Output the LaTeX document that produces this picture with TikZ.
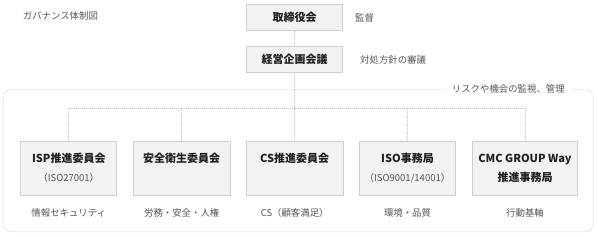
\documentclass[tikz,border=0pt]{standalone}
\usepackage{fontspec}
\setmainfont{Noto Sans CJK JP}
\definecolor{boxfill}{HTML}{F2F2F2}
\definecolor{boxline}{HTML}{CFCFCF}
\definecolor{dotline}{HTML}{C4C4C4}
\definecolor{titletext}{HTML}{1F1F1F}
\definecolor{notetext}{HTML}{555555}
\newcommand{\subline}[1]{{\mdseries\color{notetext}\fontsize{9.5}{19}\selectfont #1}}
\tikzset{
  unit/.style={draw=boxline, fill=boxfill, line width=0.8pt, minimum height=54, inner sep=0,
    align=center, text=titletext, font=\fontsize{11}{19}\selectfont\bfseries},
  link/.style={draw=dotline, line width=0.7pt, dash pattern=on 0.8pt off 1.2pt},
  note/.style={text=notetext, font=\fontsize{9.4}{11}\selectfont, inner sep=0},
}
\begin{document}
\begin{tikzpicture}[x=1pt,y=-1pt]
  \useasboundingbox (0,0) rectangle (598,236);

  \node[note, anchor=west] (caption) at (22.7,16.3) {ガバナンス体制図};

  % board and planning
  \node[unit, minimum width=96, minimum height=26.7] (board) at (294.7,17.3) {取締役会};
  \node[unit, minimum width=96, minimum height=26] (plan) at (294.7,59.7) {経営企画会議};
  \node[note, anchor=west] (board-note) at (355,17.5) {監督};
  \node[note, anchor=west] (plan-note) at (360,60) {対処方針の審議};

  % risk frame
  \draw[link, rounded corners=8] (3.3,89.3) rectangle (593.3,231.7);
  \node[note, fill=white, inner xsep=6, inner ysep=2] (frame-note) at (508.3,89.3) {リスクや機会の監視、管理};

  % committees
  \foreach \id/\cx/\bw/\ttl/\sub/\lbl in {
    isp/68.8/96/ISP推進委員会/\subline{（ISO27001）}/情報セキュリティ,
    safety/181.7/96.5/安全衛生委員会/\subline{\phantom{（）}}/労務・安全・人権,
    cs/294.7/96.5/CS推進委員会/\subline{\phantom{（）}}/CS（顧客満足）,
    iso/407.5/96.5/ISO事務局/\subline{（ISO9001/14001）}/環境・品質,
    cmc/525/105.5/CMC GROUP Way/推進事務局/行動基軸
  }{
    \node[unit, minimum width=\bw] (\id) at (\cx,168.2) {\ttl\\\sub};
    \node[note] (\id-note) at (\cx,212.7) {\lbl};
  }

  % connectors
  \coordinate (bus) at (294.7,108.3);
  \draw[link] (board.south) -- (plan.north);
  \draw[link] (plan.south) -- (cs.north);
  \draw[link] (isp.north) |- (bus) -| (cmc.north);
  \foreach \id in {safety,iso}
    \draw[link] (\id.north) -- (\id.north |- bus);
\end{tikzpicture}
\end{document}
